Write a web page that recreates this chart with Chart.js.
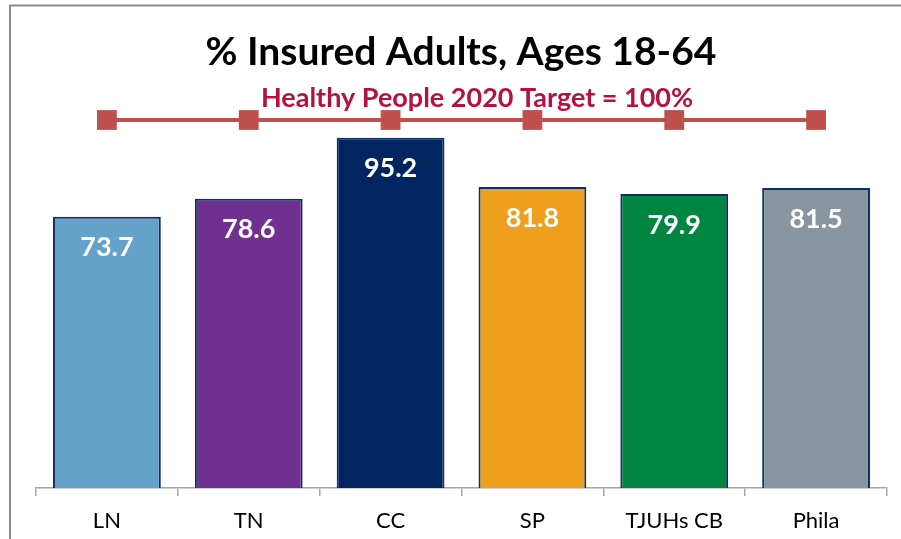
<!DOCTYPE html>
<html>
<head>
<meta charset="utf-8">
<script src="https://cdn.jsdelivr.net/npm/chart.js@4/dist/chart.umd.min.js"></script>
<style>
    body { margin: 0; background: #fff; }
    canvas { display: block; }
</style>
</head>
<body>
<canvas id="insuredChart" width="901" height="539"></canvas>
<script>
// chart values
const areas = ['LN', 'TN', 'CC', 'SP', 'TJUHs CB', 'Phila'];
const insuredPct = [73.7, 78.6, 95.2, 81.8, 79.9, 81.5];
const targetPct = [100, 100, 100, 100, 100, 100];
const barColors = ['#65A2CA', '#70308F', '#00255F', '#EE9F1E', '#008641', '#8A969F'];

const FONT = 'Lato, "Open Sans", sans-serif';

// border, title, subtitle and the numbers inside the bars
const decorPlugin = {
    id: 'decor',
    beforeDraw(chart) {
        const ctx = chart.ctx;
        ctx.save();
        ctx.strokeStyle = '#898989';
        ctx.lineWidth = 2;
        ctx.strokeRect(10, 5.5, 1000, 1000);
        ctx.restore();
    },
    afterDatasetsDraw(chart) {
        const ctx = chart.ctx;
        ctx.save();
        ctx.textAlign = 'center';

        ctx.fillStyle = '#000';
        ctx.font = 'bold 39px ' + FONT;
        ctx.textBaseline = 'alphabetic';
        ctx.fillText('% Insured Adults, Ages 18-64', 461, 65);

        ctx.fillStyle = '#B5123F';
        ctx.font = 'bold 27px ' + FONT;
        ctx.fillText('Healthy People 2020 Target = 100%', 477, 107);

        const meta = chart.getDatasetMeta(0);
        ctx.fillStyle = '#fff';
        ctx.font = 'bold 27px ' + FONT;
        ctx.textBaseline = 'middle';
        meta.data.forEach((bar, i) => {
            ctx.fillText(insuredPct[i].toFixed(1), bar.x, bar.y + 31);
        });
        ctx.restore();
    }
};

function initChart() {
    const ctx = document.getElementById('insuredChart').getContext('2d');

    new Chart(ctx, {
        type: 'bar',
        data: {
            labels: areas,
            datasets: [
                {
                    label: '% Insured',
                    data: insuredPct,
                    backgroundColor: barColors,
                    borderColor: '#0F2E66',
                    borderWidth: 2,
                    borderSkipped: 'bottom',
                    barPercentage: 0.76,
                    categoryPercentage: 1.0,
                    order: 2
                },
                {
                    type: 'line',
                    label: 'Target',
                    data: targetPct,
                    borderColor: '#C0504D',
                    backgroundColor: '#C0504D',
                    borderWidth: 4,
                    pointStyle: 'rect',
                    pointRadius: 14,
                    pointBorderWidth: 0,
                    clip: false,
                    order: 1
                }
            ]
        },
        options: {
            responsive: false,
            animation: false,
            layout: {
                padding: { top: 120, left: 36, right: 12, bottom: 0 }
            },
            plugins: {
                legend: { display: false },
                title: { display: false },
                tooltip: { enabled: false }
            },
            scales: {
                x: {
                    offset: true,
                    afterFit(scale) { scale.height = 51; },
                    grid: {
                        offset: true,
                        drawOnChartArea: false,
                        drawTicks: true,
                        tickLength: 8,
                        color: '#A6A6A6',
                        lineWidth: 1.5
                    },
                    border: { display: true, color: '#A6A6A6', width: 1.5 },
                    ticks: {
                        color: '#000',
                        padding: 12,
                        font: { family: FONT, size: 22 }
                    }
                },
                y: {
                    display: false,
                    min: 0,
                    max: 100
                }
            }
        },
        plugins: [decorPlugin]
    });
}

initChart();
</script>
</body>
</html>
